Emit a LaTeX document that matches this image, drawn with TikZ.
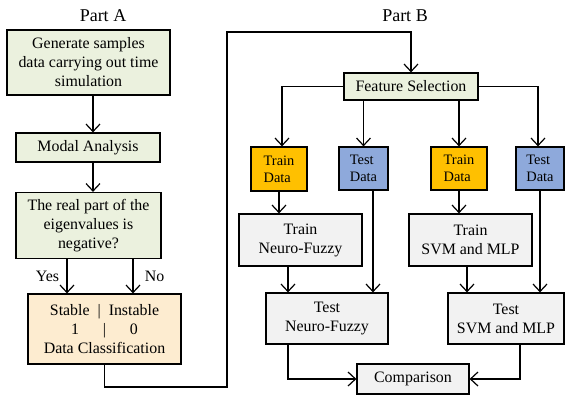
\documentclass[tikz,border=0pt]{standalone}
\usepackage{fontspec}
\setmainfont{Liberation Serif}
\usetikzlibrary{arrows.meta}
\definecolor{stageGreen}{RGB}{235,241,222}
\definecolor{resultPeach}{RGB}{253,236,208}
\definecolor{modelGray}{RGB}{242,242,242}
\definecolor{trainOrange}{RGB}{255,192,0}
\definecolor{testBlue}{RGB}{142,169,219}
\begin{document}
\begin{tikzpicture}[x=1pt,y=-1pt,
  box/.style={draw=black,line width=1.2pt,inner sep=1pt,align=center,font=\fontsize{15.9}{19}\selectfont},
  stage/.style={box,fill=stageGreen},
  result/.style={box,fill=resultPeach},
  model/.style={box,fill=modelGray},
  trainset/.style={box,fill=trainOrange,align=left,font=\fontsize{14.4}{17}\selectfont},
  testset/.style={box,fill=testBlue,align=left,font=\fontsize{14.4}{17}\selectfont},
  flow/.style={line width=1.2pt,-{Straight Barb[length=7.5pt,width=14pt]}},
  part/.style={font=\fontsize{18}{20}\selectfont},
  answer/.style={font=\fontsize{15.9}{19}\selectfont}]
\useasboundingbox (0,0) rectangle (565,394);
% guide columns for the connectors
\coordinate (trunkA) at (93,0);
\coordinate (yesX) at (67,0);
\coordinate (noX) at (133,0);
\coordinate (xTestA) at (373,0);
\coordinate (xTrainNF) at (288,0);
\coordinate (xTrainSVM) at (467,0);
\coordinate (xTestSVM) at (520,0);
\coordinate (bendA) at (227,387);
\coordinate (bendB) at (227,32);
% Part A
\node[part] (partA) at (103,16) {Part A};
\node[stage,minimum width=163pt,minimum height=65pt] (gen) at (88.5,62.5) {Generate samples\\data carrying out time\\simulation};
\node[stage,minimum width=144pt,minimum height=29pt] (modal) at (88,147.5) {Modal Analysis};
\node[stage,minimum width=145pt,minimum height=66pt] (quest) at (88.5,225.5) {The real part of the\\eigenvalues is\\negative?};
\node[result,minimum width=153pt,minimum height=70pt] (classif) at (104.5,329) {Stable~~|~~Instable\\1~~~~~~|~~~~~~0\\Data Classification};
% Part B
\node[part] (partB) at (405,16) {Part B};
\node[stage,minimum width=134pt,minimum height=27pt] (fs) at (411,86.5) {Feature Selection};
\node[trainset,minimum width=56pt,minimum height=44pt] (trainA) at (279,169) {Train\\Data};
\node[testset,minimum width=49pt,minimum height=43pt] (testA) at (363.5,168.5) {Test\\Data};
\node[trainset,minimum width=56pt,minimum height=43pt] (trainB) at (459,168.5) {Train\\Data};
\node[testset,minimum width=48pt,minimum height=43pt] (testB) at (540,168.5) {Test\\Data};
\node[model,minimum width=123pt,minimum height=52pt] (trainNF) at (300.5,240) {Train\\Neuro-Fuzzy};
\node[model,minimum width=123pt,minimum height=52pt] (trainSVM) at (470.5,240) {Train\\SVM and MLP};
\node[model,minimum width=122pt,minimum height=51pt] (testNF) at (327,318.5) {Test\\Neuro-Fuzzy};
\node[model,minimum width=116pt,minimum height=51pt] (testSVM) at (506,318.5) {Test\\SVM and MLP};
\node[model,minimum width=112pt,minimum height=30pt] (comp) at (413,379) {Comparison};
% connectors, part A
\draw[flow] (gen.south -| trunkA) -- (modal.north -| trunkA);
\draw[flow] (modal.south -| trunkA) -- (quest.north -| trunkA);
\draw[flow] (quest.south -| yesX) -- node[answer,left=4pt] {Yes} (classif.north -| yesX);
\draw[flow] (quest.south -| noX) -- node[answer,right=8pt] {No} (classif.north -| noX);
\draw[flow] (classif.south) |- (bendA) -- (bendB) -| (fs.north);
% connectors, part B
\draw[flow] (fs.west) -| ([xshift=3pt]trainA.north);
\draw[flow] (fs.south -| testA) -- (testA.north);
\draw[flow] (fs.south -| trainB) -- (trainB.north);
\draw[flow] (fs.east) -| ([xshift=-2pt]testB.north);
\draw[flow] (trainA) -- (trainA |- trainNF.north);
\draw[flow] (trainB) -- (trainB |- trainSVM.north);
\draw[flow] (testA.south -| xTestA) -- (testNF.north -| xTestA);
\draw[flow] (testB.south) -- (testB |- testSVM.north);
\draw[flow] (trainNF.south -| xTrainNF) -- (testNF.north -| xTrainNF);
\draw[flow] (trainSVM.south -| xTrainSVM) -- (testSVM.north -| xTrainSVM);
\draw[flow] (testNF.south -| xTrainNF) |- (comp.west);
\draw[flow] (testSVM.south -| xTestSVM) |- (comp.east);
\end{tikzpicture}
\end{document}
